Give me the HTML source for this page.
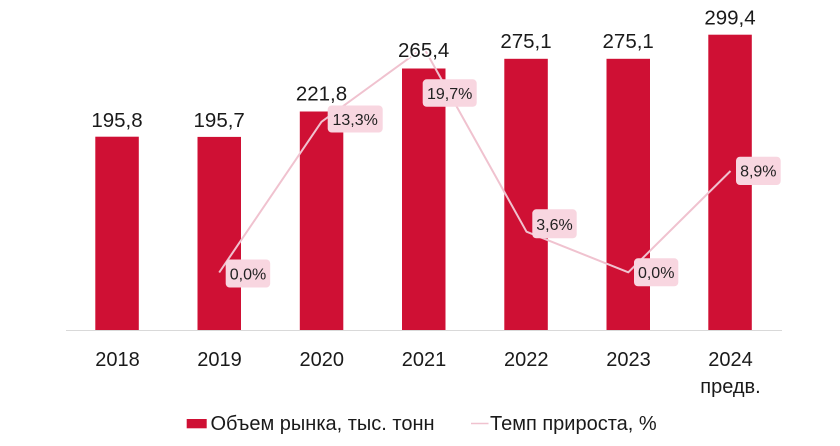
<!DOCTYPE html>
<html>
<head>
<meta charset="utf-8">
<style>
html,body{margin:0;padding:0;background:#fff;}
svg{display:block;}
text{font-family:"Liberation Sans","DejaVu Sans",sans-serif;}
</style>
</head>
<body>
<svg width="840" height="446" viewBox="0 0 840 446" xmlns="http://www.w3.org/2000/svg">
  <rect width="840" height="446" fill="#fff"/>
  <!-- axis -->
  <line x1="66" y1="330.5" x2="782" y2="330.5" stroke="#d9d9d9" stroke-width="1"/>
  <!-- bars -->
  <g fill="#cf1034">
    <rect x="95.3" y="136.7" width="43.5" height="193.3"/>
    <rect x="197.5" y="136.9" width="43.5" height="193.1"/>
    <rect x="299.8" y="111.5" width="43.5" height="218.5"/>
    <rect x="402" y="68.5" width="43.5" height="261.5"/>
    <rect x="504.3" y="58.8" width="43.5" height="271.2"/>
    <rect x="606.5" y="58.8" width="43.5" height="271.2"/>
    <rect x="708.3" y="34.7" width="43.5" height="295.3"/>
  </g>
  <!-- line -->
  <polyline points="219.2,272.5 321.5,121.8 423.7,47.5 526.5,231.7 628.3,272.3 730.5,171" fill="none" stroke="#f0c2cf" stroke-width="2" stroke-linejoin="round"/>
  <!-- value labels -->
  <g font-size="20.5" fill="#1a1a1a" text-anchor="middle" stroke="#fff" stroke-width="3" paint-order="stroke" stroke-linejoin="round">
    <text x="117" y="127">195,8</text>
    <text x="219.2" y="127">195,7</text>
    <text x="321.5" y="100.5">221,8</text>
    <text x="423.7" y="57">265,4</text>
    <text x="526" y="48">275,1</text>
    <text x="628.2" y="48">275,1</text>
    <text x="730" y="24.5">299,4</text>
  </g>
  <!-- percent labels -->
  <g fill="#f8d6e0">
    <rect x="225.7" y="259.5" width="44.5" height="28" rx="4"/>
    <rect x="327.7" y="105.5" width="55" height="27" rx="4"/>
    <rect x="422.7" y="79.3" width="54" height="27.5" rx="4"/>
    <rect x="532.3" y="209.3" width="44.4" height="29" rx="4"/>
    <rect x="634" y="258.3" width="44.3" height="28" rx="4"/>
    <rect x="736" y="156.7" width="44.7" height="28.3" rx="4"/>
  </g>
  <g font-size="16" fill="#222" text-anchor="middle">
    <text x="248" y="279.5">0,0%</text>
    <text x="355.2" y="124.8">13,3%</text>
    <text x="449.7" y="98.8">19,7%</text>
    <text x="554.5" y="229.8">3,6%</text>
    <text x="656.2" y="278">0,0%</text>
    <text x="758.3" y="176.5">8,9%</text>
  </g>
  <!-- category labels -->
  <g font-size="20" fill="#1a1a1a" text-anchor="middle">
    <text x="117.5" y="366">2018</text>
    <text x="219.5" y="366">2019</text>
    <text x="321.8" y="366">2020</text>
    <text x="424" y="366">2021</text>
    <text x="526.3" y="366">2022</text>
    <text x="628.5" y="366">2023</text>
    <text x="730.5" y="366">2024</text>
    <text x="730.5" y="393">предв.</text>
  </g>
  <!-- legend -->
  <rect x="186.7" y="419" width="20" height="9.3" fill="#cf1034"/>
  <text x="210.5" y="430" font-size="20" fill="#1a1a1a">Объем рынка, тыс. тонн</text>
  <line x1="471" y1="423.5" x2="488.5" y2="423.5" stroke="#f0c2cf" stroke-width="1.5"/>
  <text x="490" y="430" font-size="20" fill="#1a1a1a">Темп прироста, %</text>
</svg>
</body>
</html>
